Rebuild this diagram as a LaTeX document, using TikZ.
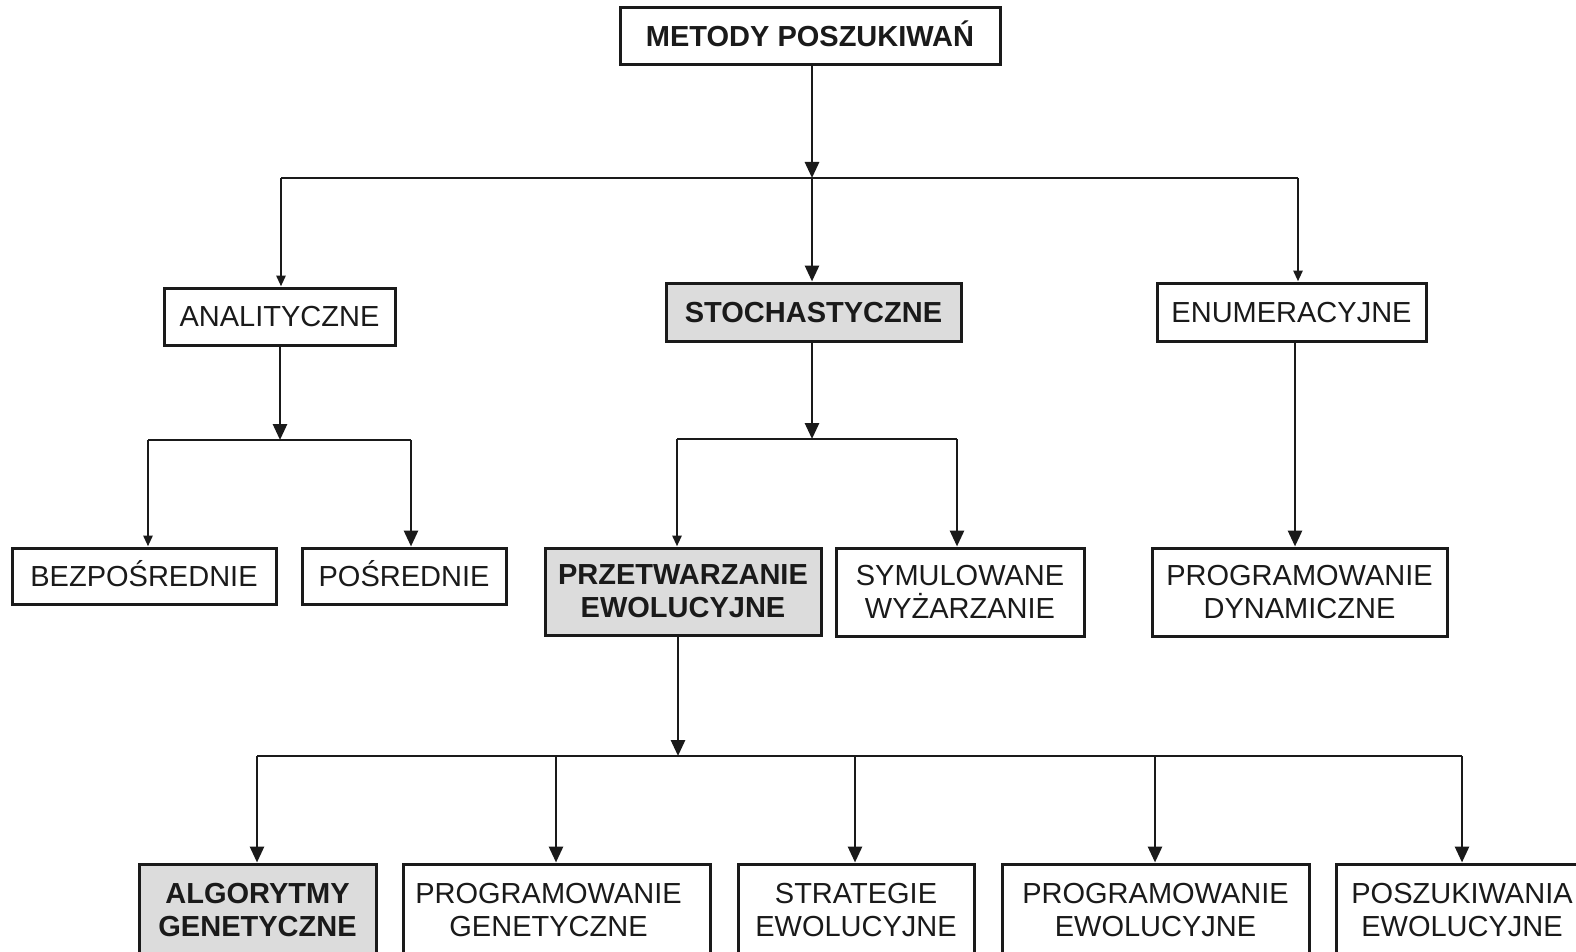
\documentclass[tikz,border=0pt]{standalone}
\usepackage{fontspec}
\setmainfont{Liberation Sans}
\usetikzlibrary{arrows.meta}
\definecolor{ln}{HTML}{1A1A1A}
\definecolor{hl}{HTML}{DCDCDC}
\begin{document}
\begin{tikzpicture}[x=1pt,y=-1pt,
  box/.style={draw=ln, line width=3pt, inner sep=0pt, align=center, text=ln, font=\fontsize{29}{33}\selectfont},
  hbox/.style={box, fill=hl, font=\fontsize{29}{33}\selectfont\bfseries},
  one/.style={text height=20.8pt, text depth=0pt},
  conn/.style={draw=ln, line width=2.8pt},
  big/.style={conn, -{Triangle[width=14pt,length=16pt]}},
  small/.style={conn, -{Triangle[width=9pt,length=11pt]}}
]
\useasboundingbox (0,0) rectangle (1576,952);
\fill[white] (0,0) rectangle (1576,952);

% level 0
\node[box, one, minimum width=380pt, minimum height=57pt, font=\fontsize{29}{33}\selectfont\bfseries] (top) at (810,36.5) {METODY POSZUKIWAŃ};

% level 1
\node[box, one, minimum width=231pt, minimum height=57pt] (anal) at (279.5,316.5) {ANALITYCZNE};
\node[hbox, one, minimum width=295pt, minimum height=58pt] (stoch) at (813.5,312) {STOCHASTYCZNE};
\node[box, one, minimum width=269pt, minimum height=58pt] (enum) at (1291.5,312) {ENUMERACYJNE};

% level 2
\node[box, one, minimum width=264pt, minimum height=56pt] (bezp) at (144,576) {BEZPOŚREDNIE};
\node[box, one, minimum width=204pt, minimum height=56pt] (posr) at (404,576) {POŚREDNIE};
\node[hbox, minimum width=276pt, minimum height=87pt] (przetw) at (683,591.5) {PRZETWARZANIE\\EWOLUCYJNE};
\node[box, minimum width=248pt, minimum height=88pt] (symul) at (960,592) {SYMULOWANE\\WYŻARZANIE};
\node[box, minimum width=295pt, minimum height=88pt] (progdyn) at (1299.5,592) {PROGRAMOWANIE\\DYNAMICZNE};

% level 3
\node[hbox, minimum width=237pt, minimum height=92pt] (algo) at (257.5,910) {ALGORYTMY\\GENETYCZNE};
\node[box, minimum width=307pt, minimum height=92pt] (pg) at (556.5,910) {PROGRAMOWANIE\hspace*{16pt}\\GENETYCZNE\hspace*{16pt}};
\node[box, minimum width=236pt, minimum height=92pt] (strat) at (856,910) {STRATEGIE\\EWOLUCYJNE};
\node[box, minimum width=307pt, minimum height=92pt] (pe) at (1155.5,910) {PROGRAMOWANIE\\EWOLUCYJNE};
\node[box, minimum width=252pt, minimum height=92pt] (posz) at (1462,910) {POSZUKIWANIA\\EWOLUCYJNE};

% junctions
\coordinate (j1) at (812,178);
\coordinate (j1L) at (281,178);
\coordinate (j1R) at (1298,178);
\coordinate (j2) at (280,440);
\coordinate (j2L) at (148,440);
\coordinate (j2R) at (411,440);
\coordinate (j3) at (812,439);
\coordinate (j3L) at (677,439);
\coordinate (j3R) at (957,439);
\coordinate (e1) at (1295,0);
\coordinate (j4) at (678,756);
\coordinate (j4a) at (257,756);
\coordinate (j4b) at (556,756);
\coordinate (j4c) at (855,756);
\coordinate (j4d) at (1155,756);
\coordinate (j4e) at (1462,756);

% connectors level 0 -> 1
\draw[big] (j1 |- top.south) -- (j1);
\draw[conn] (j1L) -- (j1R);
\draw[small] (j1L) -- (j1L |- anal.north);
\draw[big] (j1) -- (j1 |- stoch.north);
\draw[small] (j1R) -- (j1R |- enum.north);

% analityczne
\draw[big] (j2 |- anal.south) -- (j2);
\draw[conn] (j2L) -- (j2R);
\draw[small] (j2L) -- (j2L |- bezp.north);
\draw[big] (j2R) -- (j2R |- posr.north);

% stochastyczne
\draw[big] (j3 |- stoch.south) -- (j3);
\draw[conn] (j3L) -- (j3R);
\draw[small] (j3L) -- (j3L |- przetw.north);
\draw[big] (j3R) -- (j3R |- symul.north);

% enumeracyjne
\draw[big] (e1 |- enum.south) -- (e1 |- progdyn.north);

% przetwarzanie
\draw[big] (j4 |- przetw.south) -- (j4);
\draw[conn] (j4a) -- (j4e);
\draw[big] (j4a) -- (j4a |- algo.north);
\draw[big] (j4b) -- (j4b |- pg.north);
\draw[big] (j4c) -- (j4c |- strat.north);
\draw[big] (j4d) -- (j4d |- pe.north);
\draw[big] (j4e) -- (j4e |- posz.north);
\end{tikzpicture}
\end{document}
